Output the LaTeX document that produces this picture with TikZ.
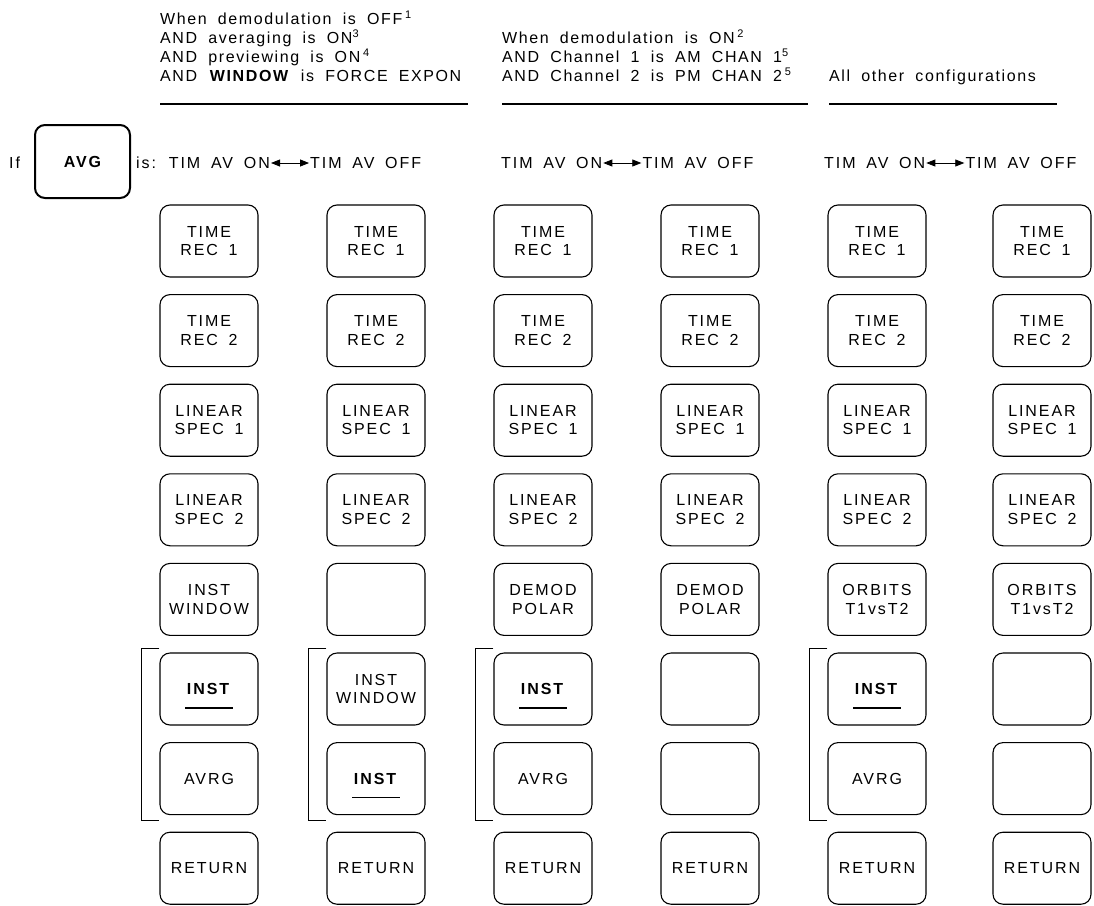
\documentclass[tikz,border=0pt]{standalone}
\usepackage{fontspec}
\setmainfont{Liberation Sans}
\newfontfamily\hpfont{Liberation Sans}[LetterSpace=10, WordSpace=1.85]
\newfontfamily\hptfont{Liberation Sans}[LetterSpace=12, WordSpace=1.84]
\newfontfamily\hpkfont{Liberation Sans}[LetterSpace=12, WordSpace=1.3]
\usetikzlibrary{arrows.meta,calc}
\newcommand{\keyfnt}{\hpkfont\fontsize{16}{18.5}\selectfont}
\newcommand{\hdrfnt}{\hpfont\fontsize{16}{18}\selectfont}
\newcommand{\timfnt}{\hptfont\fontsize{16}{18}\selectfont}
\newcommand{\supn}[1]{\raisebox{6.5pt}{\hpfont\fontsize{11}{11}\selectfont #1}}
\begin{document}
\begin{tikzpicture}[x=1pt,y=-1pt,
  key/.style={draw, line width=1.1pt, rounded corners=10pt, minimum width=98pt,
    minimum height=72pt, inner sep=0pt, align=center, font=\keyfnt},
  avgkey/.style={draw, line width=2pt, rounded corners=10pt, minimum width=95pt,
    minimum height=73pt, inner sep=0pt, font=\keyfnt\bfseries},
  hdr/.style={anchor=base west, inner sep=0pt, font=\hdrfnt},
  tim/.style={inner sep=1pt, font=\timfnt},
  rule/.style={line width=2.6pt},
  bracket/.style={line width=1pt},
  inst/.style={line width=1.4pt},
  dbl/.style={line width=0.8pt, {Triangle[length=9pt,width=7pt]}-{Triangle[length=9pt,width=7pt]}}
]
\useasboundingbox (0,0) rectangle (1094,905);
\fill[white] (0,0) rectangle (1094,905);

% headers
\node[hdr] (h1a) at (160,24.5) {When demodulation is OFF\,\supn{1}};
\node[hdr] (h1b) at (160,43.5) {AND averaging is ON\supn{3}};
\node[hdr] (h1c) at (160,62.5) {AND previewing is ON\,\supn{4}};
\node[hdr] (h1d) at (160,81.5) {AND \textbf{WINDOW} is FORCE EXPON};
\coordinate (u1a) at (160,104); \coordinate (u1b) at (468,104);
\draw[rule] (u1a) -- (u1b);

\node[hdr] (h2a) at (502,43.5) {When demodulation is ON\,\supn{2}};
\node[hdr] (h2b) at (502,62.5) {AND Channel 1 is AM CHAN 1\supn{5}};
\node[hdr] (h2c) at (502,81.5) {AND Channel 2 is PM CHAN 2\,\supn{5}};
\coordinate (u2a) at (502,104); \coordinate (u2b) at (808,104);
\draw[rule] (u2a) -- (u2b);

\node[hdr] (h3a) at (829,81.5) {All other configurations};
\coordinate (u3a) at (829,104); \coordinate (u3b) at (1057,104);
\draw[rule] (u3a) -- (u3b);

% AVG row
\node[tim, anchor=west] (if) at (8,163) {If};
\node[avgkey] (avg) at (82.5,161.5) {AVG};
\node[tim, anchor=west] (t1a) at (135,163) {is: TIM AV ON};
\node[tim, anchor=west] (t1b) at ([xshift=38pt]t1a.east) {TIM AV OFF};
\draw[dbl] (t1a.east) -- (t1b.west);
\node[tim, anchor=west] (t2a) at (500,163) {TIM AV ON};
\node[tim, anchor=west] (t2b) at ([xshift=38pt]t2a.east) {TIM AV OFF};
\draw[dbl] (t2a.east) -- (t2b.west);
\node[tim, anchor=west] (t3a) at (823,163) {TIM AV ON};
\node[tim, anchor=west] (t3b) at ([xshift=38pt]t3a.east) {TIM AV OFF};
\draw[dbl] (t3a.east) -- (t3b.west);

% keys, rows 1-4 and 8 identical in all columns
\foreach \c/\x in {1/209,2/376,3/543,4/710,5/877,6/1042}{
  \node[key] (k\c-1) at (\x,241) {TIME\\REC 1};
  \node[key] (k\c-2) at (\x,330.6) {TIME\\REC 2};
  \node[key] (k\c-3) at (\x,420.2) {LINEAR\\SPEC 1};
  \node[key] (k\c-4) at (\x,509.8) {LINEAR\\SPEC 2};
  \node[key] (k\c-8) at (\x,868.2) {RETURN};
}
% column 1
\node[key] (k1-5) at (209,599.4) {INST\\WINDOW};
\node[key] (k1-6) at (209,689) {\textbf{INST}};
\node[key] (k1-7) at (209,778.6) {AVRG};
% column 2
\node[key] (k2-5) at (376,599.4) {};
\node[key] (k2-6) at (376,689) {INST\\WINDOW};
\node[key] (k2-7) at (376,778.6) {\textbf{INST}};
% column 3
\node[key] (k3-5) at (543,599.4) {DEMOD\\POLAR};
\node[key] (k3-6) at (543,689) {\textbf{INST}};
\node[key] (k3-7) at (543,778.6) {AVRG};
% column 4
\node[key] (k4-5) at (710,599.4) {DEMOD\\POLAR};
\node[key] (k4-6) at (710,689) {};
\node[key] (k4-7) at (710,778.6) {};
% column 5
\node[key] (k5-5) at (877,599.4) {ORBITS\\T1vsT2};
\node[key] (k5-6) at (877,689) {\textbf{INST}};
\node[key] (k5-7) at (877,778.6) {AVRG};
% column 6
\node[key] (k6-5) at (1042,599.4) {ORBITS\\T1vsT2};
\node[key] (k6-6) at (1042,689) {};
\node[key] (k6-7) at (1042,778.6) {};

% underlines under INST
\foreach \k in {k1-6,k2-7,k3-6,k5-6}{
  \draw[inst] ($(\k.center)+(-24,19)$) -- ($(\k.center)+(24,19)$);
}

% brackets
\foreach \c in {1,2,3,5}{
  \draw[bracket] ([yshift=4pt]k\c-6.north west) -- ++(-18,0) |- ([yshift=-5pt]k\c-7.south west);
}
\end{tikzpicture}
\end{document}
